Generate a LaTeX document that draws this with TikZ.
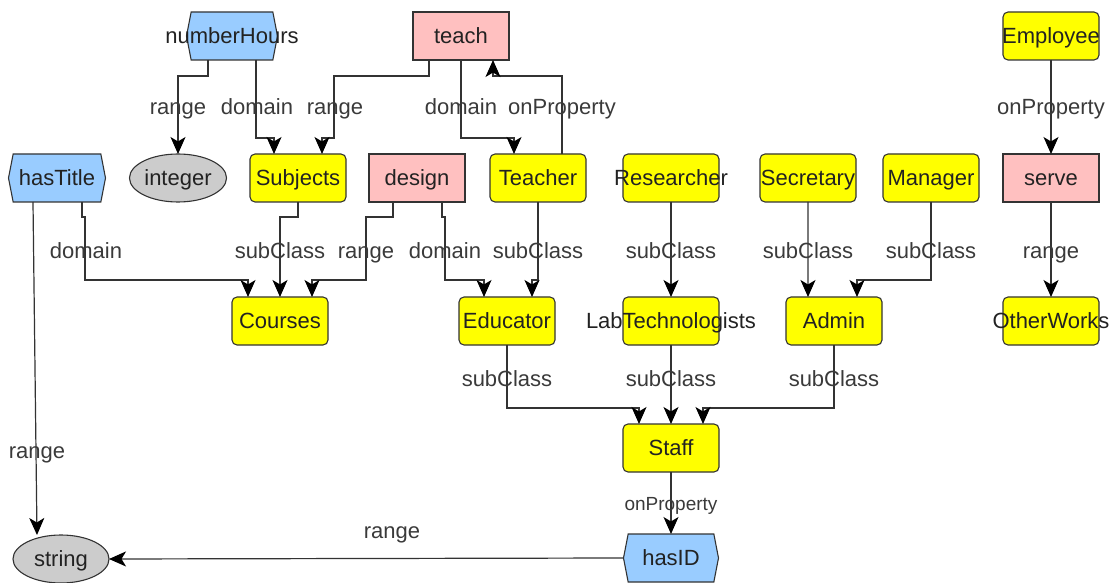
\documentclass[tikz,border=0pt]{standalone}
\usepackage{fontspec}
\setmainfont{Liberation Sans}
\usetikzlibrary{arrows.meta,shapes.geometric,shapes.symbols}
\definecolor{cyel}{HTML}{FFFF00}
\definecolor{cpink}{HTML}{FFC0C0}
\definecolor{cblue}{HTML}{99CCFF}
\definecolor{cgray}{HTML}{CCCCCC}
\definecolor{cline}{HTML}{333333}
\definecolor{ctext}{HTML}{222222}
\definecolor{clbl}{HTML}{3A3A3A}
\tikzset{
  base/.style={draw=cline, line width=1.1bp, inner sep=0pt, outer sep=0pt,
    minimum width=96bp, minimum height=48bp, text=ctext,
    text height=15bp, text depth=0bp,
    font=\fontsize{22bp}{24bp}\selectfont},
  classbox/.style={base, rectangle, rounded corners=5bp, fill=cyel},
  propbox/.style={base, rectangle, fill=cpink},
  databox/.style={base, ellipse, fill=cgray, minimum width=97bp},
  hexbox/.style={base, signal, signal to=west and east, signal pointer angle=158, fill=cblue, minimum width=95bp},
  tipstyle/.tip={Stealth[length=17bp,width=15bp,inset=4.5bp,color=black]},
  edge/.style={draw=cline, line width=1.2bp, -tipstyle},
  lbl/.style={text=clbl, inner sep=0pt, text height=16bp, text depth=0bp, font=\fontsize{22bp}{24bp}\selectfont},
  smalllbl/.style={text=clbl, inner sep=0pt, text height=14bp, text depth=0bp, font=\fontsize{19bp}{21bp}\selectfont}
}
\newcommand{\ztxt}[1]{\makebox[0pt]{#1}}
\begin{document}
\begin{tikzpicture}[x=1bp,y=-1bp]
\useasboundingbox (0,0) rectangle (1117,583);
% nodes
\node[hexbox, minimum width=91bp] (numberHours) at (232,36) {\ztxt{numberHours}};
\node[propbox] (teach) at (461,36) {\ztxt{teach}};
\node[classbox] (Employee) at (1051,36) {\ztxt{Employee}};
\node[hexbox, minimum width=97bp] (hasTitle) at (57,178) {\ztxt{hasTitle}};
\node[databox] (integer) at (178,178) {\ztxt{integer}};
\node[classbox] (Subjects) at (298,178) {\ztxt{Subjects}};
\node[propbox] (design) at (417,178) {\ztxt{design}};
\node[classbox] (Teacher) at (538,178) {\ztxt{Teacher}};
\node[classbox] (Researcher) at (671,178) {\ztxt{Researcher}};
\node[classbox] (Secretary) at (808,178) {\ztxt{Secretary}};
\node[classbox] (Manager) at (931,178) {\ztxt{Manager}};
\node[propbox] (serve) at (1051,178) {\ztxt{serve}};
\node[classbox] (Courses) at (280,321) {\ztxt{Courses}};
\node[classbox] (Educator) at (507,321) {\ztxt{Educator}};
\node[classbox] (LabTech) at (671,321) {\ztxt{LabTechnologists}};
\node[classbox] (Admin) at (834,321) {\ztxt{Admin}};
\node[classbox] (OtherWorks) at (1051,321) {\ztxt{OtherWorks}};
\node[classbox] (Staff) at (671,448) {\ztxt{Staff}};
\node[hexbox] (hasID) at (671,558) {\ztxt{hasID}};
\node[databox, minimum width=96bp] (string) at (61,559) {\ztxt{string}};
% edges
\draw[edge] ([xshift=-24bp]numberHours.south) -- ++(0,16) -| (integer.north)
  node[lbl, at={(178,107)}] {range};
\draw[edge] ([xshift=24bp]numberHours.south) |- ([xshift=-24bp,yshift=16bp]Subjects.north) -- ([xshift=-24bp]Subjects.north)
  node[lbl, at={(257,107)}] {domain};
\draw[edge] ([xshift=-32bp]teach.south) -- ++(0,16) -| ([xshift=36bp,yshift=16bp]Subjects.north) -- ([xshift=24bp,yshift=16bp]Subjects.north) -- ([xshift=24bp]Subjects.north)
  node[lbl, at={(335,107)}] {range};
\draw[edge] (teach.south) |- ([xshift=-24bp,yshift=16bp]Teacher.north) -- ([xshift=-24bp]Teacher.north)
  node[lbl, at={(461,107)}] {domain};
\draw[edge] ([xshift=24bp]Teacher.north) |- ([xshift=32bp,yshift=-16bp]teach.south) -- ([xshift=32bp]teach.south)
  node[lbl, at={(562,107)}] {onProperty};
\draw[edge] (Employee) -- (serve) node[lbl, at={(1051,107)}] {onProperty};
\draw[edge] ([xshift=25bp]hasTitle.south) -- ++(0,15) -- ++(3,0) |- ([xshift=-32bp,yshift=17bp]Courses.north) -- ([xshift=-32bp]Courses.north)
  node[lbl, at={(86,251)}] {domain};
\draw[edge] (Subjects.south) -- ++(0,15) -| (Courses.north)
  node[lbl, at={(280,251)}] {subClass};
\draw[edge] ([xshift=-24bp]design.south) -- ++(0,15) -- ++(-27,0) |- ([xshift=32bp,yshift=17bp]Courses.north) -- ([xshift=32bp]Courses.north)
  node[lbl, at={(366,251)}] {range};
\draw[edge] ([xshift=25bp]design.south) -- ++(0,15) -- ++(3,0) |- ([xshift=-23bp,yshift=17bp]Educator.north) -- ([xshift=-23bp]Educator.north)
  node[lbl, at={(445,251)}] {domain};
\draw[edge] (Teacher.south) |- ([xshift=25bp,yshift=17bp]Educator.north) -- ([xshift=25bp]Educator.north)
  node[lbl, at={(538,251)}] {subClass};
\draw[edge] (Researcher) -- (LabTech) node[lbl, at={(671,251)}] {subClass};
\draw[edge] (Secretary.south) -- ([xshift=-26bp]Admin.north) node[lbl, at={(808,251)}] {subClass};
\draw[edge] (Manager.south) |- ([xshift=23bp,yshift=17bp]Admin.north) -- ([xshift=23bp]Admin.north)
  node[lbl, at={(931,251)}] {subClass};
\draw[edge] (serve) -- (OtherWorks) node[lbl, at={(1051,251)}] {range};
\draw[edge] (Educator.south) |- ([xshift=-32bp,yshift=16bp]Staff.north) -- ([xshift=-32bp]Staff.north)
  node[lbl, at={(507,378)}] {subClass};
\draw[edge] (LabTech) -- (Staff) node[lbl, at={(671,378)}] {subClass};
\draw[edge] (Admin.south) |- ([xshift=32bp,yshift=16bp]Staff.north) -- ([xshift=32bp]Staff.north)
  node[lbl, at={(834,378)}] {subClass};
\draw[edge] (Staff) -- (hasID) node[smalllbl, at={(671,503)}] {onProperty};
\draw[edge] ([xshift=-24bp]hasTitle.south) -- ([xshift=-24bp]string.north)
  node[lbl, at={(37,450)}] {range};
\draw[edge] (hasID.west) -- (string.east) node[lbl, at={(392,530)}] {range};
\end{tikzpicture}
\end{document}
